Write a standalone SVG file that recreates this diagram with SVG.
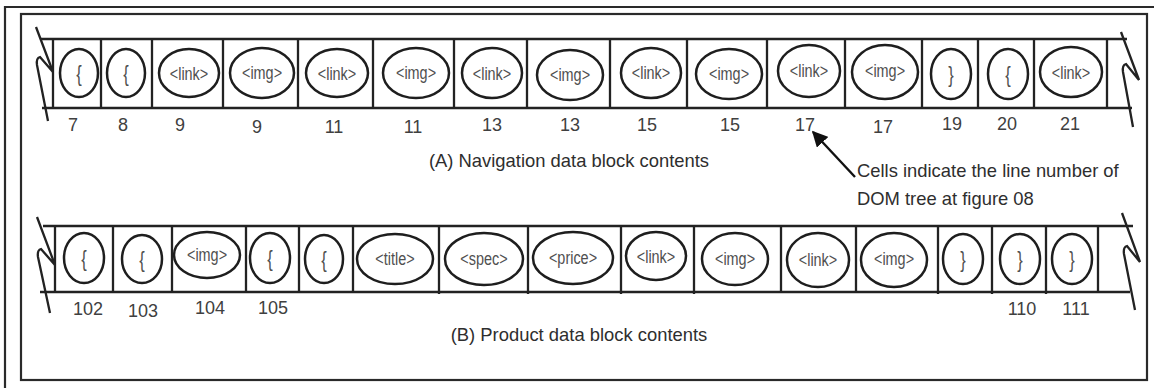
<svg xmlns="http://www.w3.org/2000/svg" width="1154" height="388" viewBox="0 0 1154 388">
<style>
.ln{stroke:#222;stroke-width:2.3;fill:none}
.fr{stroke:#2a2a2a;stroke-width:2.2;fill:none}
.el{stroke:#1e1e1e;stroke-width:2.5;fill:none}
.tg{font-family:"Liberation Sans",Arial,sans-serif;font-size:19px;fill:#505050;text-anchor:middle}
.br{font-family:"Liberation Sans",Arial,sans-serif;font-size:22px;fill:#505050;text-anchor:middle}
.nm{font-family:"Liberation Sans",Arial,sans-serif;font-size:18px;fill:#404040;text-anchor:middle}
.cap{font-family:"Liberation Sans",Arial,sans-serif;font-size:18.4px;fill:#2e2e2e}
</style>
<defs>
<marker id="ah" viewBox="0 0 10 10" refX="9" refY="5" markerWidth="6.5" markerHeight="6.5" orient="auto" markerUnits="strokeWidth">
<path d="M0,0 L10,5 L0,10 z" fill="#111"/>
</marker>
</defs>
<rect width="1154" height="388" fill="#fff"/>
<g id="frame">
<path class="fr" d="M5,388 V7 H1154" stroke-width="1.8"/>
<rect class="fr" x="21" y="14" width="1126" height="366"/>
</g>
<g id="rowA-strip">
<path class="ln" d="M41,39 H1127 M42,108 H1132"/>
<path class="ln" d="M53,39 V108 M101,39 V108 M152,39 V108 M223,39 V108 M298,39 V108 M373,39 V108 M454,39 V108 M527,39 V108 M610,39 V108 M687,39 V108 M767,39 V108 M845,39 V108 M922,39 V108 M978,39 V108 M1034,39 V108 M1107,39 V108"/>
<path class="ln" d="M36,27 L53,72 L40,57 Q36,58 37,65 L48,121"/>
<path class="ln" d="M1121,32 L1139,80 L1126,64 Q1122,65 1123,72 L1133,127"/>
</g>
<g id="a1"><ellipse class="el" cx="79" cy="73" rx="19" ry="24"/><text class="br" transform="translate(79,81) scale(0.75,1)">{</text></g>
<g id="a2"><ellipse class="el" cx="126" cy="73" rx="19" ry="24"/><text class="br" transform="translate(126,81) scale(0.75,1)">{</text></g>
<g id="a3"><ellipse class="el" cx="189" cy="73" rx="30" ry="24"/><text class="tg" transform="translate(189,80) scale(0.76,1)">&lt;link&gt;</text></g>
<g id="a4"><ellipse class="el" cx="262" cy="73" rx="32" ry="25"/><text class="tg" transform="translate(262,79) scale(0.76,1)">&lt;img&gt;</text></g>
<g id="a5"><ellipse class="el" cx="337" cy="73" rx="31" ry="24"/><text class="tg" transform="translate(337,80) scale(0.76,1)">&lt;link&gt;</text></g>
<g id="a6"><ellipse class="el" cx="416" cy="73" rx="33" ry="25"/><text class="tg" transform="translate(416,79) scale(0.76,1)">&lt;img&gt;</text></g>
<g id="a7"><ellipse class="el" cx="492" cy="73" rx="30" ry="25"/><text class="tg" transform="translate(492,80) scale(0.76,1)">&lt;link&gt;</text></g>
<g id="a8"><ellipse class="el" cx="570" cy="75" rx="33" ry="25"/><text class="tg" transform="translate(570,81) scale(0.76,1)">&lt;img&gt;</text></g>
<g id="a9"><ellipse class="el" cx="651" cy="73" rx="30" ry="25"/><text class="tg" transform="translate(651,79) scale(0.76,1)">&lt;link&gt;</text></g>
<g id="a10"><ellipse class="el" cx="729" cy="74" rx="33" ry="25"/><text class="tg" transform="translate(729,80) scale(0.76,1)">&lt;img&gt;</text></g>
<g id="a11"><ellipse class="el" cx="809" cy="71" rx="31" ry="26"/><text class="tg" transform="translate(809,77) scale(0.76,1)">&lt;link&gt;</text></g>
<g id="a12"><ellipse class="el" cx="885" cy="72" rx="33" ry="27"/><text class="tg" transform="translate(885,77) scale(0.76,1)">&lt;img&gt;</text></g>
<g id="a13"><ellipse class="el" cx="951" cy="74" rx="20" ry="25"/><text class="br" transform="translate(951,82) scale(0.75,1)">}</text></g>
<g id="a14"><ellipse class="el" cx="1008" cy="74" rx="20" ry="25"/><text class="br" transform="translate(1008,82) scale(0.75,1)">{</text></g>
<g id="a15"><ellipse class="el" cx="1071" cy="72" rx="31" ry="25"/><text class="tg" transform="translate(1071,79) scale(0.76,1)">&lt;link&gt;</text></g>
<g id="rowA-numbers">
<text class="nm" x="73" y="131">7</text>
<text class="nm" x="123" y="131">8</text>
<text class="nm" x="180" y="131">9</text>
<text class="nm" x="257" y="133">9</text>
<text class="nm" x="334" y="133">11</text>
<text class="nm" x="413" y="133">11</text>
<text class="nm" x="492" y="131">13</text>
<text class="nm" x="570" y="131">13</text>
<text class="nm" x="647" y="131">15</text>
<text class="nm" x="730" y="131">15</text>
<text class="nm" x="805" y="131">17</text>
<text class="nm" x="883" y="133">17</text>
<text class="nm" x="952" y="130">19</text>
<text class="nm" x="1007" y="130">20</text>
<text class="nm" x="1070" y="130">21</text>
</g>
<text id="captionA" class="cap" x="569" y="167" text-anchor="middle">(A) Navigation data block contents</text>
<g id="note">
<text class="cap" x="857" y="177">Cells indicate the line number of</text>
<text class="cap" x="857" y="205">DOM tree at figure 08</text>
</g>
<g id="connectors">
<line x1="855" y1="177" x2="813" y2="132" stroke="#111" stroke-width="2.4" marker-end="url(#ah)"/>
</g>
<g id="rowB-strip">
<path class="ln" d="M43,226 H1133 M40,292 H1130"/>
<path class="ln" d="M55,226 V292 M113,226 V292 M172,226 V292 M246,226 V292 M299,226 V292 M353,226 V292 M439,226 V294 M528,226 V294 M621,226 V294 M694,226 V294 M781,226 V292 M856,226 V292 M938,226 V294 M992,226 V294 M1046,226 V294 M1098,226 V292"/>
<path class="ln" d="M37,217 L55,265 L41,249 Q37,250 38,257 L50,313"/>
<path class="ln" d="M1122,213 L1140,262 L1127,246 Q1123,247 1124,254 L1135,310"/>
</g>
<g id="b1"><ellipse class="el" cx="84" cy="258" rx="20" ry="25"/><text class="br" transform="translate(84,266) scale(0.75,1)">{</text></g>
<g id="b2"><ellipse class="el" cx="142" cy="259" rx="20" ry="24"/><text class="br" transform="translate(142,267) scale(0.75,1)">{</text></g>
<g id="b3"><ellipse class="el" cx="207" cy="255" rx="33" ry="23"/><text class="tg" transform="translate(207,261) scale(0.76,1)">&lt;img&gt;</text></g>
<g id="b4"><ellipse class="el" cx="270" cy="258" rx="20" ry="25"/><text class="br" transform="translate(270,266) scale(0.75,1)">{</text></g>
<g id="b5"><ellipse class="el" cx="324" cy="259" rx="19" ry="24"/><text class="br" transform="translate(324,267) scale(0.75,1)">{</text></g>
<g id="b6"><ellipse class="el" cx="395" cy="259" rx="38" ry="25"/><text class="tg" transform="translate(395,265) scale(0.76,1)">&lt;title&gt;</text></g>
<g id="b7"><ellipse class="el" cx="484" cy="259" rx="39" ry="26"/><text class="tg" transform="translate(484,265) scale(0.76,1)">&lt;spec&gt;</text></g>
<g id="b8"><ellipse class="el" cx="573" cy="258" rx="40" ry="26"/><text class="tg" transform="translate(573,264) scale(0.76,1)">&lt;price&gt;</text></g>
<g id="b9"><ellipse class="el" cx="656" cy="256" rx="30" ry="24"/><text class="tg" transform="translate(656,263) scale(0.76,1)">&lt;link&gt;</text></g>
<g id="b10"><ellipse class="el" cx="735" cy="259" rx="33" ry="26"/><text class="tg" transform="translate(735,265) scale(0.76,1)">&lt;img&gt;</text></g>
<g id="b11"><ellipse class="el" cx="818" cy="260" rx="31" ry="27"/><text class="tg" transform="translate(818,266) scale(0.76,1)">&lt;link&gt;</text></g>
<g id="b12"><ellipse class="el" cx="894" cy="260" rx="33" ry="27"/><text class="tg" transform="translate(894,265) scale(0.76,1)">&lt;img&gt;</text></g>
<g id="b13"><ellipse class="el" cx="963" cy="259" rx="20" ry="25"/><text class="br" transform="translate(963,267) scale(0.75,1)">}</text></g>
<g id="b14"><ellipse class="el" cx="1020" cy="259" rx="20" ry="25"/><text class="br" transform="translate(1020,267) scale(0.75,1)">}</text></g>
<g id="b15"><ellipse class="el" cx="1072" cy="259" rx="20" ry="25"/><text class="br" transform="translate(1072,267) scale(0.75,1)">}</text></g>
<g id="rowB-numbers">
<text class="nm" x="88" y="315">102</text>
<text class="nm" x="143" y="317">103</text>
<text class="nm" x="210" y="314">104</text>
<text class="nm" x="273" y="314">105</text>
<text class="nm" x="1022" y="315">110</text>
<text class="nm" x="1076" y="315">111</text>
</g>
<text id="captionB" class="cap" x="579" y="341" text-anchor="middle">(B) Product data block contents</text>
</svg>
